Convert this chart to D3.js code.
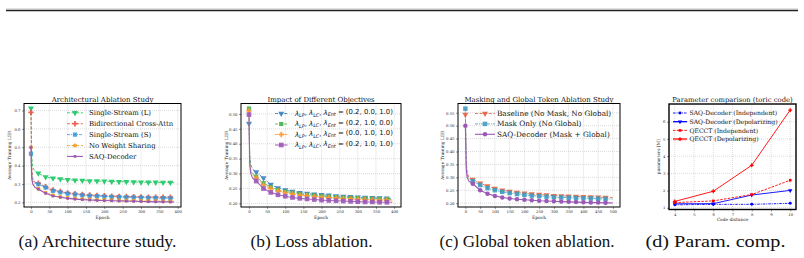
<!DOCTYPE html>
<html>
<head>
<meta charset="utf-8">
<script src="https://cdn.jsdelivr.net/npm/d3@7"></script>
<style>
  body { margin: 0; background: #fff; }
  svg { display: block; }
</style>
</head>
<body>
<div id="root"></div>
<script>
// ---- data: (a) architecture study ----
const archEpochs = [0, 2, 5, 10, 20, 40, 60, 80, 100, 120, 140, 160, 180, 200, 220, 240, 260, 280, 300, 320, 340, 360, 380, 390];
const archSingleL = [0.712, 0.45, 0.39, 0.37, 0.358, 0.338, 0.332, 0.327, 0.323, 0.321, 0.319, 0.317, 0.316, 0.315, 0.314, 0.313, 0.312, 0.311, 0.310, 0.309, 0.309, 0.308, 0.308, 0.307];
const archBidir = [0.690, 0.40, 0.33, 0.31, 0.305, 0.285, 0.268, 0.259, 0.252, 0.247, 0.243, 0.240, 0.238, 0.236, 0.234, 0.233, 0.232, 0.231, 0.230, 0.229, 0.229, 0.228, 0.228, 0.228];
const archSingleS = [0.465, 0.36, 0.32, 0.305, 0.299, 0.281, 0.263, 0.255, 0.248, 0.243, 0.239, 0.236, 0.234, 0.232, 0.230, 0.229, 0.228, 0.227, 0.226, 0.225, 0.224, 0.223, 0.222, 0.222];
const archNoShare = [0.500, 0.34, 0.30, 0.285, 0.275, 0.252, 0.238, 0.230, 0.225, 0.221, 0.218, 0.216, 0.214, 0.213, 0.212, 0.211, 0.210, 0.209, 0.208, 0.207, 0.207, 0.206, 0.206, 0.206];
const archSaq = [0.499, 0.33, 0.30, 0.283, 0.272, 0.250, 0.235, 0.228, 0.222, 0.218, 0.215, 0.213, 0.211, 0.210, 0.209, 0.208, 0.207, 0.206, 0.205, 0.204, 0.203, 0.203, 0.202, 0.202];

// ---- data: (b) loss ablation ----
const lossEpochs = [0, 2, 5, 10, 20, 40, 60, 80, 100, 120, 140, 160, 180, 200, 220, 240, 260, 280, 300, 320, 340, 360, 380, 395];
const lossNoLC = [0.468, 0.36, 0.33, 0.315, 0.305, 0.285, 0.263, 0.252, 0.245, 0.240, 0.236, 0.233, 0.231, 0.229, 0.227, 0.225, 0.223, 0.222, 0.221, 0.220, 0.219, 0.218, 0.217, 0.217];
const lossNoEnt = [0.518, 0.35, 0.31, 0.300, 0.290, 0.268, 0.255, 0.245, 0.240, 0.236, 0.232, 0.229, 0.227, 0.225, 0.223, 0.221, 0.220, 0.219, 0.218, 0.217, 0.216, 0.215, 0.214, 0.214];
const lossNoLP = [0.510, 0.34, 0.31, 0.295, 0.285, 0.262, 0.250, 0.242, 0.236, 0.232, 0.228, 0.226, 0.223, 0.221, 0.219, 0.218, 0.216, 0.215, 0.214, 0.213, 0.212, 0.211, 0.211, 0.211];
const lossFull = [0.498, 0.33, 0.30, 0.285, 0.275, 0.250, 0.237, 0.229, 0.224, 0.220, 0.217, 0.215, 0.213, 0.211, 0.210, 0.209, 0.208, 0.207, 0.206, 0.205, 0.205, 0.204, 0.204, 0.204];
const lossLabels = [["0.2", "0.0", "1.0"], ["0.2", "1.0", "0.0"], ["0.0", "1.0", "1.0"], ["0.2", "1.0", "1.0"]];

// ---- data: (c) global token ablation ----
const maskEpochs = [0, 3, 6, 12, 25, 50, 75, 100, 125, 150, 175, 200, 225, 250, 275, 300, 325, 350, 375, 400, 425, 450, 475, 499];
const maskBaseline = [0.543, 0.36, 0.32, 0.300, 0.292, 0.277, 0.266, 0.257, 0.250, 0.245, 0.241, 0.238, 0.235, 0.233, 0.231, 0.229, 0.228, 0.227, 0.226, 0.225, 0.224, 0.223, 0.222, 0.222];
const maskOnly = [0.566, 0.35, 0.31, 0.295, 0.285, 0.270, 0.258, 0.250, 0.244, 0.239, 0.235, 0.232, 0.229, 0.227, 0.225, 0.223, 0.222, 0.221, 0.220, 0.219, 0.218, 0.217, 0.216, 0.216];
const maskSaq = [0.500, 0.33, 0.30, 0.285, 0.275, 0.250, 0.236, 0.228, 0.222, 0.218, 0.215, 0.213, 0.211, 0.209, 0.208, 0.207, 0.206, 0.205, 0.204, 0.203, 0.202, 0.202, 0.201, 0.201];

// ---- data: (d) parameter comparison ----
const codeDistances = [4, 6, 8, 10];
const saqIndep = [1.17, 1.20, 1.20, 1.26];
const saqDepol = [1.23, 1.24, 1.74, 2.01];
const qecctIndep = [1.30, 1.40, 1.77, 2.60];
const qecctDepol = [1.37, 1.96, 3.47, 6.68];

const captions = ["(a) Architecture study.", "(b) Loss ablation.", "(c) Global token ablation.", "(d) Param. comp."];

const serif = "DejaVu Serif";
const width = 804, height = 258;

const svg = d3.select('#root').append('svg')
  .attr('width', width)
  .attr('height', height)
  .attr('viewBox', [0, 0, width, height]);

svg.append('rect').attr('width', width).attr('height', height).attr('fill', '#fff');

// double rule at the top of the page
svg.append('line').attr('x1', 6).attr('x2', 798).attr('y1', 9.2).attr('y2', 9.2)
  .attr('stroke', '#888').attr('stroke-width', 0.8);
svg.append('line').attr('x1', 6).attr('x2', 798).attr('y1', 10.6).attr('y2', 10.6)
  .attr('stroke', '#222').attr('stroke-width', 1.3);

function markerPath(shape, size) {
  if (shape === 'down') return d3.symbol().type(d3.symbolTriangle).size(size)();
  if (shape === 'square') return d3.symbol().type(d3.symbolSquare).size(size)();
  if (shape === 'plus') return d3.symbol().type(d3.symbolCross).size(size)();
  return d3.symbol().type(d3.symbolCircle).size(size)();
}

function zip(xs, ys) { return xs.map((v, i) => [v, ys[i]]); }

function drawPanel(p) {
  const g = svg.append('g');
  const x = d3.scaleLinear().domain(p.xDomain).range([p.left, p.right]);
  const y = d3.scaleLinear().domain(p.yDomain).range([p.bottom, p.top]);

  // grid
  g.selectAll('.gx').data(p.xTicks).join('line')
    .attr('x1', d => x(d)).attr('x2', d => x(d))
    .attr('y1', p.top).attr('y2', p.bottom)
    .attr('stroke', '#b8b8b8').attr('stroke-width', 0.5).attr('stroke-dasharray', '1,1');
  g.selectAll('.gy').data(p.yTicks).join('line')
    .attr('x1', p.left).attr('x2', p.right)
    .attr('y1', d => y(d)).attr('y2', d => y(d))
    .attr('stroke', '#b8b8b8').attr('stroke-width', 0.5).attr('stroke-dasharray', '1,1');

  // axes
  const xAxis = g.append('g').attr('transform', `translate(0,${p.bottom})`)
    .call(d3.axisBottom(x).tickValues(p.xTicks).tickSize(2).tickPadding(1.5).tickFormat(p.xFormat));
  const yAxis = g.append('g').attr('transform', `translate(${p.left},0)`)
    .call(d3.axisLeft(y).tickValues(p.yTicks).tickSize(2).tickPadding(1.5).tickFormat(p.yFormat));
  [xAxis, yAxis].forEach(a => {
    a.select('.domain').remove();
    a.selectAll('line').attr('stroke', '#333').attr('stroke-width', 0.5);
    a.selectAll('text').attr('font-family', serif).attr('font-size', 3.8).attr('fill', '#222');
  });

  // series
  const line = d3.line().x(d => x(d[0])).y(d => y(d[1]));
  p.series.forEach(s => {
    const pts = zip(p.xs, s.values);
    g.append('path').datum(pts)
      .attr('d', line)
      .attr('fill', 'none')
      .attr('stroke', s.color)
      .attr('stroke-width', s.lw || 0.9)
      .attr('stroke-dasharray', s.dash || null)
      .attr('opacity', s.alpha || 1);
    const marks = pts.filter(d => p.markAt(d[0]));
    g.selectAll(null).data(marks).join('path')
      .attr('d', markerPath(s.marker, s.msize))
      .attr('transform', d => `translate(${x(d[0])},${y(d[1])})` + (s.marker === 'down' ? ' rotate(180)' : ''))
      .attr('fill', s.color)
      .attr('opacity', s.alpha || 1);
  });

  // frame
  g.append('rect')
    .attr('x', p.left).attr('y', p.top)
    .attr('width', p.right - p.left).attr('height', p.bottom - p.top)
    .attr('fill', 'none').attr('stroke', '#000').attr('stroke-width', p.frameWidth || 1);

  // title and axis labels
  g.append('text').attr('x', (p.left + p.right) / 2).attr('y', p.top - 2)
    .attr('text-anchor', 'middle').attr('font-family', serif).attr('font-size', p.titleSize)
    .attr('fill', '#111').text(p.title);
  g.append('text').attr('x', (p.left + p.right) / 2).attr('y', p.bottom + 11.5)
    .attr('text-anchor', 'middle').attr('font-family', serif).attr('font-size', 4.4)
    .attr('fill', '#222').text(p.xLabel);
  g.append('text')
    .attr('transform', `translate(${p.yLabelX},${(p.top + p.bottom) / 2}) rotate(-90)`)
    .attr('text-anchor', 'middle').attr('font-family', serif).attr('font-size', 4.4)
    .attr('fill', '#222').text(p.yLabel);

  // legend
  p.series.forEach((s, i) => {
    const ly = p.legend.y + i * p.legend.step;
    g.append('line')
      .attr('x1', p.legend.x).attr('x2', p.legend.x + p.legend.len)
      .attr('y1', ly).attr('y2', ly)
      .attr('stroke', s.color).attr('stroke-width', s.legendLw || s.lw || 0.9)
      .attr('stroke-dasharray', s.dash || null).attr('opacity', s.legendAlpha || s.alpha || 1);
    g.append('path')
      .attr('d', markerPath(s.marker, s.msize))
      .attr('transform', `translate(${p.legend.x + p.legend.len / 2},${ly})` + (s.marker === 'down' ? ' rotate(180)' : ''))
      .attr('fill', s.color).attr('opacity', s.alpha || 1);
    const t = g.append('text')
      .attr('x', p.legend.x + p.legend.len + p.legend.gap).attr('y', ly)
      .attr('dy', '0.35em')
      .attr('font-family', p.legend.font || serif).attr('font-size', p.legend.size)
      .attr('fill', '#111');
    if (s.labelFn) s.labelFn(t); else t.text(s.label);
  });
}

function lambdaLabel(vals) {
  return function (t) {
    const subs = ['LP', 'LC', 'Ent'];
    subs.forEach((sub, i) => {
      t.append('tspan').attr('font-style', 'italic').text('λ');
      t.append('tspan').attr('font-style', 'italic').attr('font-size', '0.7em').attr('dy', '0.25em').text(sub);
      t.append('tspan').attr('dy', '-0.25em').text(i < 2 ? ', ' : ' = ');
    });
    t.append('tspan').text(`(${vals.join(', ')})`);
  };
}

const panels = [
  {
    left: 24, right: 181, top: 103.5, bottom: 207,
    xs: archEpochs, xDomain: [-19, 409], yDomain: [0.175, 0.738],
    xTicks: d3.range(0, 401, 50), yTicks: [0.2, 0.3, 0.4, 0.5, 0.6, 0.7],
    xFormat: d3.format('d'), yFormat: d3.format('.1f'),
    markAt: e => e % 20 === 0,
    title: 'Architectural Ablation Study', titleSize: 7,
    xLabel: 'Epoch', yLabel: 'Average Training LER', yLabelX: 10.5,
    legend: { x: 67, len: 16, gap: 6, y: 112.8, step: 10.9, size: 6.9 },
    series: [
      { label: 'Single-Stream (L)', values: archSingleL, color: '#2ecc71', dash: '3,1.6', marker: 'down', msize: 16 },
      { label: 'Bidirectional Cross-Attn', values: archBidir, color: '#e74c3c', dash: '3,1.6', marker: 'plus', msize: 16, alpha: 0.85 },
      { label: 'Single-Stream (S)', values: archSingleS, color: '#3498db', dash: '3,1,1,1', marker: 'square', msize: 18, alpha: 0.85 },
      { label: 'No Weight Sharing', values: archNoShare, color: '#f39c12', dash: '3,1.6', marker: 'circle', msize: 14, alpha: 0.85 },
      { label: 'SAQ-Decoder', values: archSaq, color: '#9b59b6', marker: 'square', msize: 7, lw: 1.1 }
    ]
  },
  {
    left: 241, right: 401, top: 103.5, bottom: 207,
    xs: lossEpochs, xDomain: [-22, 419], yDomain: [0.188, 0.535],
    xTicks: d3.range(0, 401, 50), yTicks: [0.20, 0.25, 0.30, 0.35, 0.40, 0.45, 0.50],
    xFormat: d3.format('d'), yFormat: d3.format('.2f'),
    markAt: e => e % 20 === 0,
    title: 'Impact of Different Objectives', titleSize: 7,
    xLabel: 'Epoch', yLabel: 'Average Training LER', yLabelX: 227.5,
    legend: { x: 275, len: 12.5, gap: 7.5, y: 113.5, step: 10.5, size: 6.9, font: 'DejaVu Sans' },
    series: [
      { labelFn: lambdaLabel(lossLabels[0]), values: lossNoLC, color: '#3b7fc0', dash: '3,1.6', marker: 'down', msize: 16, alpha: 0.9 },
      { labelFn: lambdaLabel(lossLabels[1]), values: lossNoEnt, color: '#4caf50', dash: '3,1.6', marker: 'square', msize: 18, alpha: 0.9 },
      { labelFn: lambdaLabel(lossLabels[2]), values: lossNoLP, color: '#ff9933', dash: '3,1.6', marker: 'plus', msize: 16, alpha: 0.9 },
      { labelFn: lambdaLabel(lossLabels[3]), values: lossFull, color: '#9b59b6', marker: 'square', msize: 22, lw: 1.1, alpha: 0.9 }
    ]
  },
  {
    left: 458, right: 620, top: 103.5, bottom: 207,
    xs: maskEpochs, xDomain: [-25, 524], yDomain: [0.185, 0.586],
    xTicks: d3.range(0, 501, 50), yTicks: [0.20, 0.25, 0.30, 0.35, 0.40, 0.45, 0.50, 0.55],
    xFormat: d3.format('d'), yFormat: d3.format('.2f'),
    markAt: e => e % 25 === 0,
    title: 'Masking and Global Token Ablation Study', titleSize: 7,
    xLabel: 'Epoch', yLabel: 'Average Training LER', yLabelX: 444,
    legend: { x: 475, len: 20, gap: 2, y: 113.5, step: 10.4, size: 7.3 },
    series: [
      { label: 'Baseline (No Mask, No Global)', values: maskBaseline, color: '#e1623f', dash: '3,1.6', marker: 'down', msize: 16, alpha: 0.9 },
      { label: 'Mask Only (No Global)', values: maskOnly, color: '#3d9dc3', dash: '3,1,1,1', marker: 'square', msize: 20, alpha: 0.9 },
      { label: 'SAQ-Decoder (Mask + Global)', values: maskSaq, color: '#9b59b6', marker: 'circle', msize: 16, lw: 1.1 }
    ]
  },
  {
    left: 669, right: 796, top: 104, bottom: 209.5,
    xs: codeDistances, xDomain: [3.7, 10.3], yDomain: [0.9, 7.03],
    xTicks: d3.range(4, 11, 1), yTicks: [1, 2, 3, 4, 5, 6],
    xFormat: d3.format('d'), yFormat: d3.format('d'),
    markAt: () => true, frameWidth: 1.4,
    title: 'Parameter comparison (toric code)', titleSize: 6.8,
    xLabel: 'Code distance', yLabel: 'parameters [M]', yLabelX: 660,
    legend: { x: 673, len: 14, gap: 2.5, y: 113, step: 8.7, size: 6.1 },
    series: [
      { label: 'SAQ-Decoder (Independent)', values: saqIndep, color: '#0000ff', dash: '2.5,1,1,1', marker: 'circle', msize: 7, lw: 0.9 },
      { label: 'SAQ-Decoder (Depolarizing)', values: saqDepol, color: '#0000ff', marker: 'down', msize: 8, lw: 0.9, legendLw: 1.3 },
      { label: 'QECCT (Independent)', values: qecctIndep, color: '#ff0000', dash: '2.5,1.3', marker: 'square', msize: 7, lw: 0.9 },
      { label: 'QECCT (Depolarizing)', values: qecctDepol, color: '#ff0000', marker: 'plus', msize: 8, lw: 0.9, legendLw: 2.2, legendAlpha: 0.6 }
    ]
  }
];

panels.forEach(drawPanel);

// captions under each panel
const captionX = [97.5, 311.5, 527, 715.5];
const captionW = [158, 122, 175, 140];
svg.selectAll('.caption').data(captions).join('text')
  .attr('x', (d, i) => captionX[i]).attr('y', 246.5)
  .attr('text-anchor', 'middle')
  .attr('font-family', 'Liberation Serif')
  .attr('font-size', 17)
  .attr('textLength', (d, i) => captionW[i])
  .attr('lengthAdjust', 'spacingAndGlyphs')
  .attr('fill', '#111')
  .text(d => d);
</script>
</body>
</html>
